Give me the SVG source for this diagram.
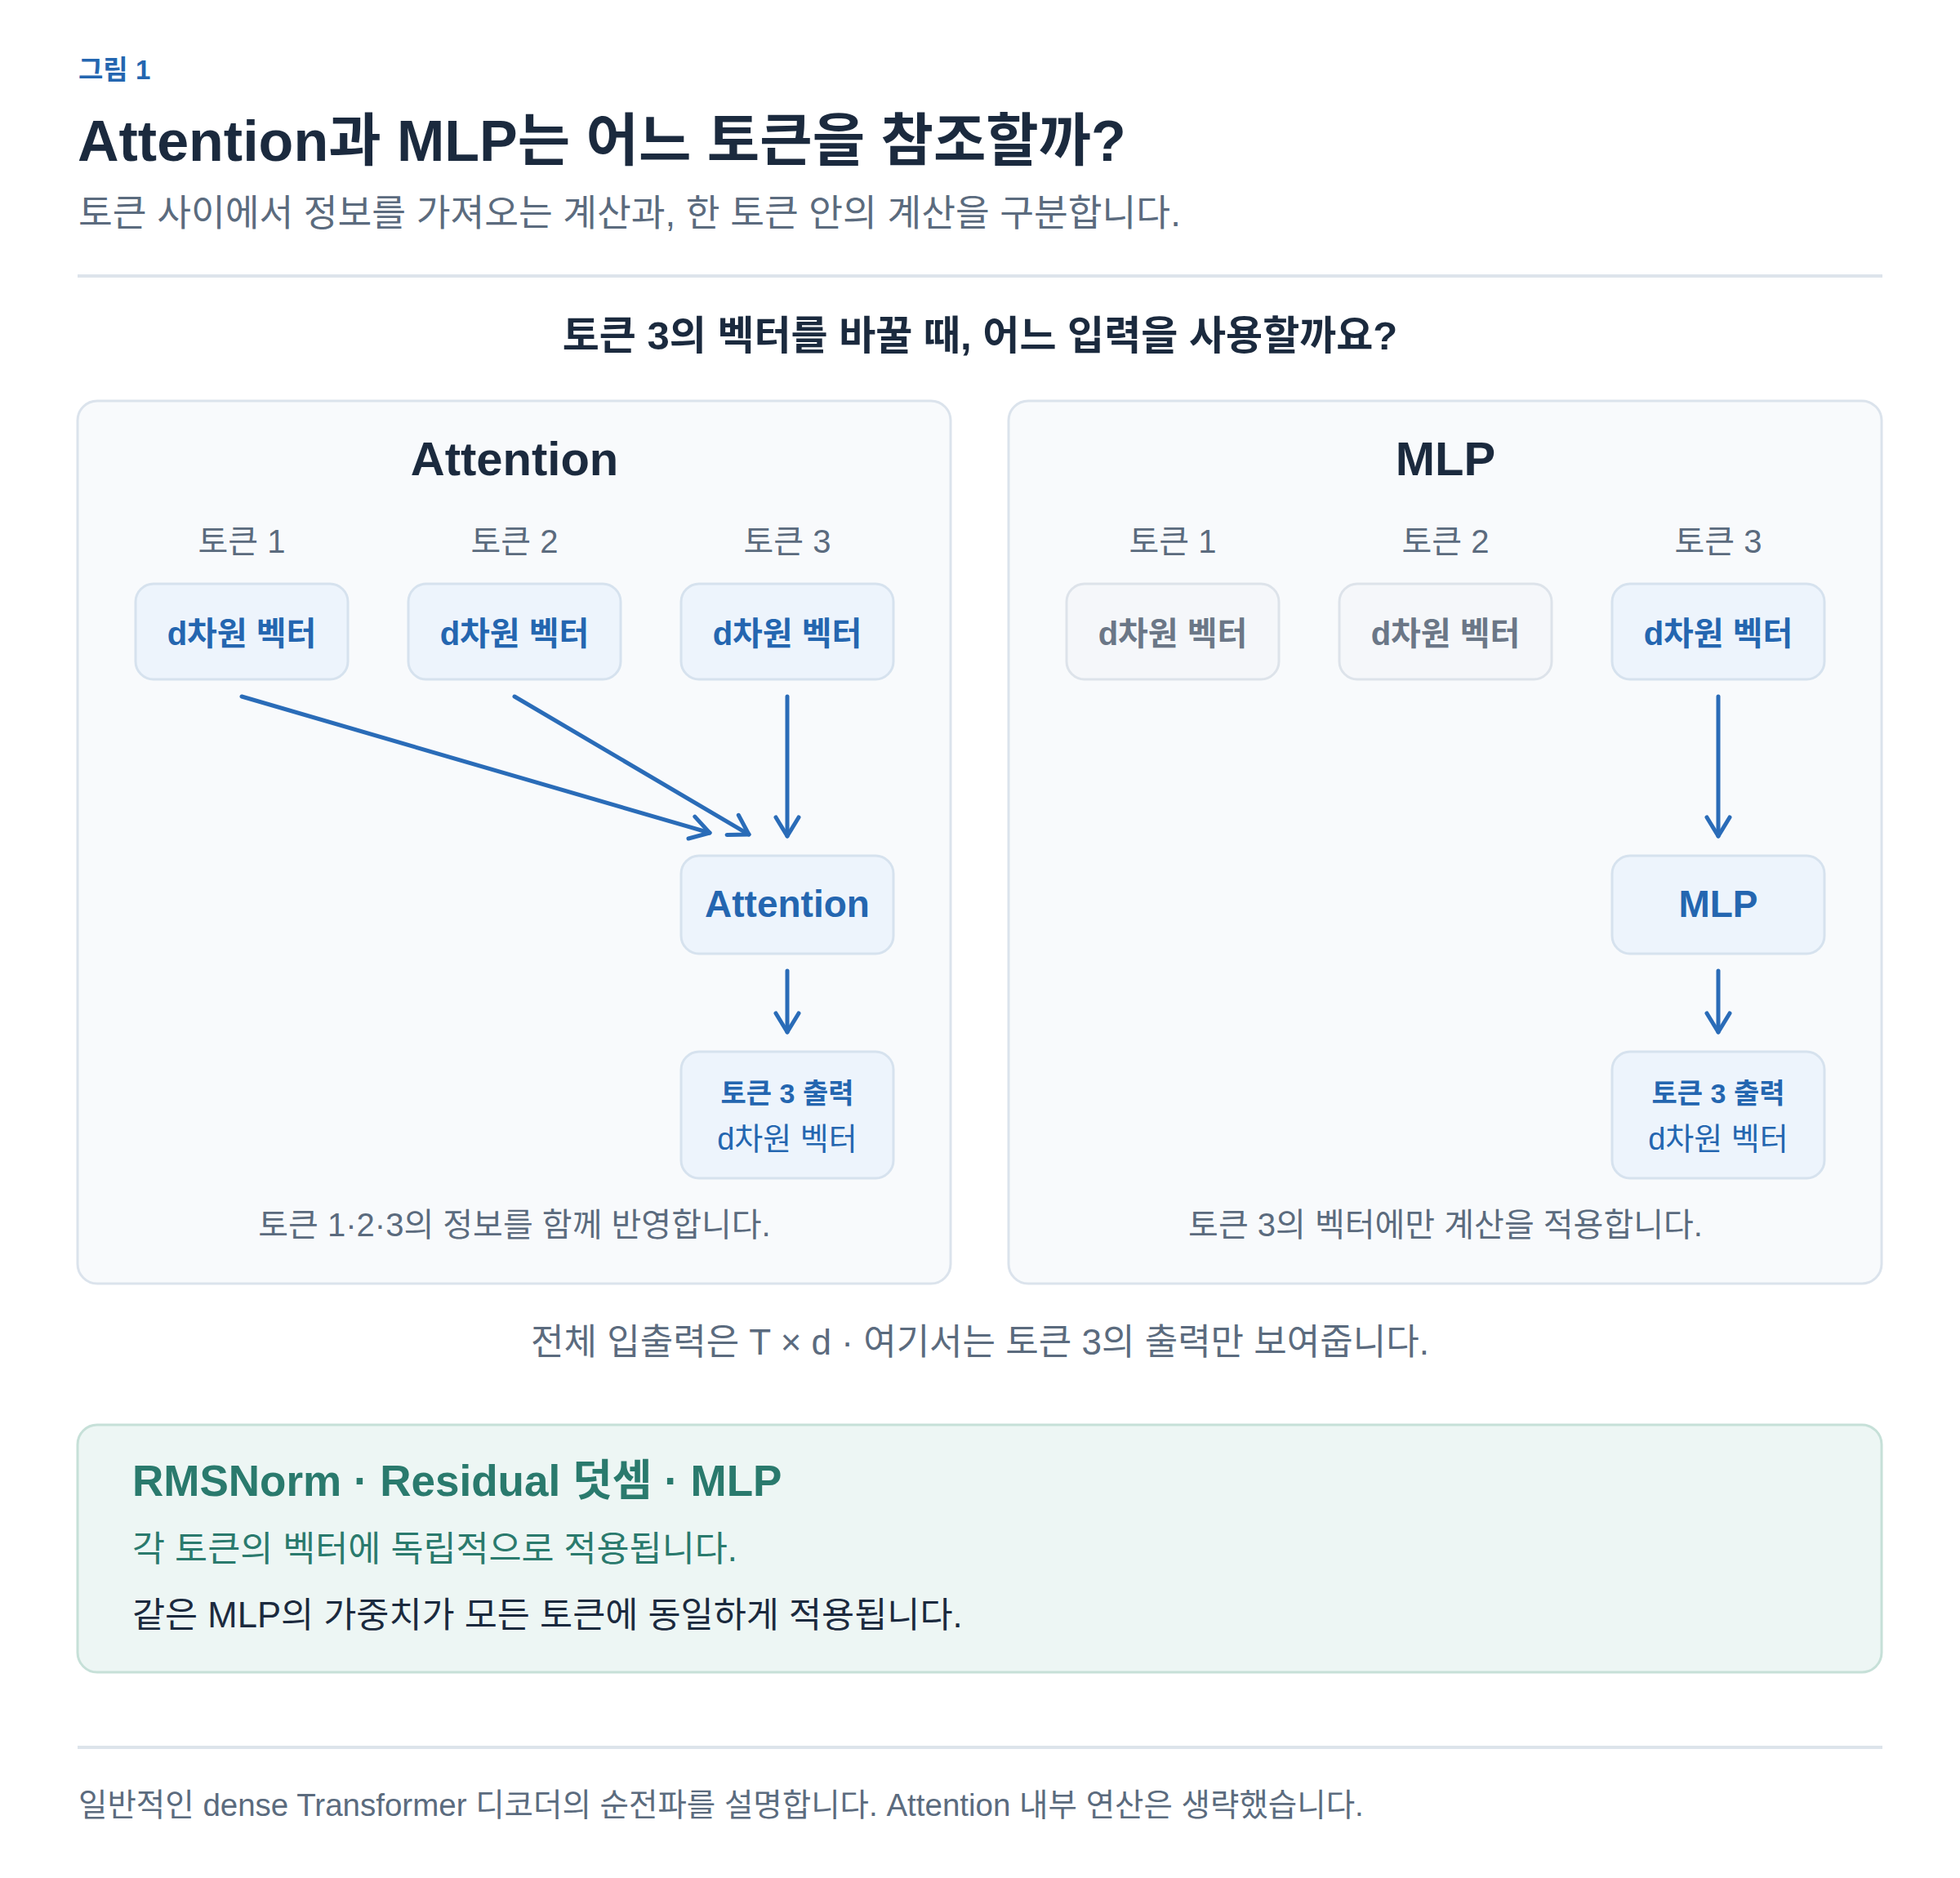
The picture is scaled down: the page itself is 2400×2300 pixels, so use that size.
<svg xmlns="http://www.w3.org/2000/svg" width="2400" height="2300" viewBox="0 0 2400 2300">
<defs>
<style>
text{font-family:"Liberation Sans","Noto Sans CJK KR",sans-serif;}
.b{font-weight:bold;}
.navy{fill:#1b2a3e;}
.gray{fill:#5b6b7e;}
.blue{fill:#2466b0;}
.mid{text-anchor:middle;}
.panel{fill:#f8fafc;stroke:#dbe3ec;stroke-width:3;}
.nb{fill:#edf4fc;stroke:#d6e2ee;stroke-width:3;}
.ng{fill:#f5f7fa;stroke:#dde3ea;stroke-width:3;}
.gt{fill:#6b7787;}
.rule{stroke:#dde4eb;stroke-width:4;}
.arr{fill:none;stroke:#2a6cb8;stroke-width:5;stroke-linecap:round;}
</style>
<marker id="ah" viewBox="0 0 30 34" refX="26" refY="17" markerWidth="30" markerHeight="34" markerUnits="userSpaceOnUse" orient="auto">
<path d="M3,3 L26,17 L3,31" fill="none" stroke="#2a6cb8" stroke-width="5" stroke-linecap="round" stroke-linejoin="round"/>
</marker>
</defs>
<rect width="2400" height="2300" fill="#ffffff"/>

<g id="header">
<text x="96" y="97" class="b blue" font-size="33">그림 1</text>
<text x="95" y="197" class="b navy" font-size="70">Attention과 MLP는 어느 토큰을 참조할까?</text>
<text x="96" y="277" class="gray" font-size="45.4">토큰 사이에서 정보를 가져오는 계산과, 한 토큰 안의 계산을 구분합니다.</text>
<line x1="95" y1="338" x2="2305" y2="338" class="rule"/>
<text x="1200" y="428" class="b navy mid" font-size="49">토큰 3의 벡터를 바꿀 때, 어느 입력을 사용할까요?</text>
</g>

<g id="panel-attention">
<rect x="95" y="491" width="1069" height="1081" rx="24" class="panel"/>
<text x="630" y="582" class="b navy mid" font-size="58">Attention</text>
<text x="296" y="677" class="gray mid" font-size="40">토큰 1</text>
<text x="630" y="677" class="gray mid" font-size="40">토큰 2</text>
<text x="964" y="677" class="gray mid" font-size="40">토큰 3</text>
<text x="630" y="1514" class="gray mid" font-size="40">토큰 1·2·3의 정보를 함께 반영합니다.</text>
</g>
<g id="a-tok1"><rect x="166" y="715" width="260" height="117" rx="22" class="nb"/><text x="296" y="790" class="b blue mid" font-size="40">d차원 벡터</text></g>
<g id="a-tok2"><rect x="500" y="715" width="260" height="117" rx="22" class="nb"/><text x="630" y="790" class="b blue mid" font-size="40">d차원 벡터</text></g>
<g id="a-tok3"><rect x="834" y="715" width="260" height="117" rx="22" class="nb"/><text x="964" y="790" class="b blue mid" font-size="40">d차원 벡터</text></g>
<g id="a-op"><rect x="834" y="1048" width="260" height="120" rx="22" class="nb"/><text x="964" y="1123" class="b blue mid" font-size="46">Attention</text></g>
<g id="a-out"><rect x="834" y="1288" width="260" height="155" rx="22" class="nb"/><text x="964" y="1351" class="b blue mid" font-size="34">토큰 3 출력</text><text x="964" y="1408" class="blue mid" font-size="38">d차원 벡터</text></g>

<g id="panel-mlp">
<rect x="1235" y="491" width="1069" height="1081" rx="24" class="panel"/>
<text x="1770" y="582" class="b navy mid" font-size="58">MLP</text>
<text x="1436" y="677" class="gray mid" font-size="40">토큰 1</text>
<text x="1770" y="677" class="gray mid" font-size="40">토큰 2</text>
<text x="2104" y="677" class="gray mid" font-size="40">토큰 3</text>
<text x="1770" y="1514" class="gray mid" font-size="40">토큰 3의 벡터에만 계산을 적용합니다.</text>
</g>
<g id="m-tok1"><rect x="1306" y="715" width="260" height="117" rx="22" class="ng"/><text x="1436" y="790" class="b gt mid" font-size="40">d차원 벡터</text></g>
<g id="m-tok2"><rect x="1640" y="715" width="260" height="117" rx="22" class="ng"/><text x="1770" y="790" class="b gt mid" font-size="40">d차원 벡터</text></g>
<g id="m-tok3"><rect x="1974" y="715" width="260" height="117" rx="22" class="nb"/><text x="2104" y="790" class="b blue mid" font-size="40">d차원 벡터</text></g>
<g id="m-op"><rect x="1974" y="1048" width="260" height="120" rx="22" class="nb"/><text x="2104" y="1123" class="b blue mid" font-size="46">MLP</text></g>
<g id="m-out"><rect x="1974" y="1288" width="260" height="155" rx="22" class="nb"/><text x="2104" y="1351" class="b blue mid" font-size="34">토큰 3 출력</text><text x="2104" y="1408" class="blue mid" font-size="38">d차원 벡터</text></g>

<g id="connectors">
<line x1="296" y1="853" x2="869" y2="1020" class="arr" marker-end="url(#ah)"/>
<line x1="630" y1="853" x2="917" y2="1022" class="arr" marker-end="url(#ah)"/>
<line x1="964" y1="853" x2="964" y2="1024" class="arr" marker-end="url(#ah)"/>
<line x1="964" y1="1189" x2="964" y2="1264" class="arr" marker-end="url(#ah)"/>
<line x1="2104" y1="853" x2="2104" y2="1024" class="arr" marker-end="url(#ah)"/>
<line x1="2104" y1="1189" x2="2104" y2="1264" class="arr" marker-end="url(#ah)"/>
</g>

<g id="caption">
<text x="1200" y="1659" class="gray mid" font-size="44">전체 입출력은 T × d · 여기서는 토큰 3의 출력만 보여줍니다.</text>
</g>

<g id="note-box">
<rect x="95" y="1745" width="2209" height="303" rx="24" fill="#edf6f4" stroke="#c6e0d8" stroke-width="3"/>
<text x="162" y="1832" class="b" font-size="53" fill="#2a7a6d">RMSNorm · Residual 덧셈 · MLP</text>
<text x="162" y="1912" font-size="43.5" fill="#2a7a6d">각 토큰의 벡터에 독립적으로 적용됩니다.</text>
<text x="162" y="1993" class="navy" font-size="43.6">같은 MLP의 가중치가 모든 토큰에 동일하게 적용됩니다.</text>
</g>

<g id="footer">
<line x1="95" y1="2140" x2="2305" y2="2140" class="rule"/>
<text x="96" y="2224" class="gray" font-size="38.5">일반적인 dense Transformer 디코더의 순전파를 설명합니다. Attention 내부 연산은 생략했습니다.</text>
</g>
</svg>
